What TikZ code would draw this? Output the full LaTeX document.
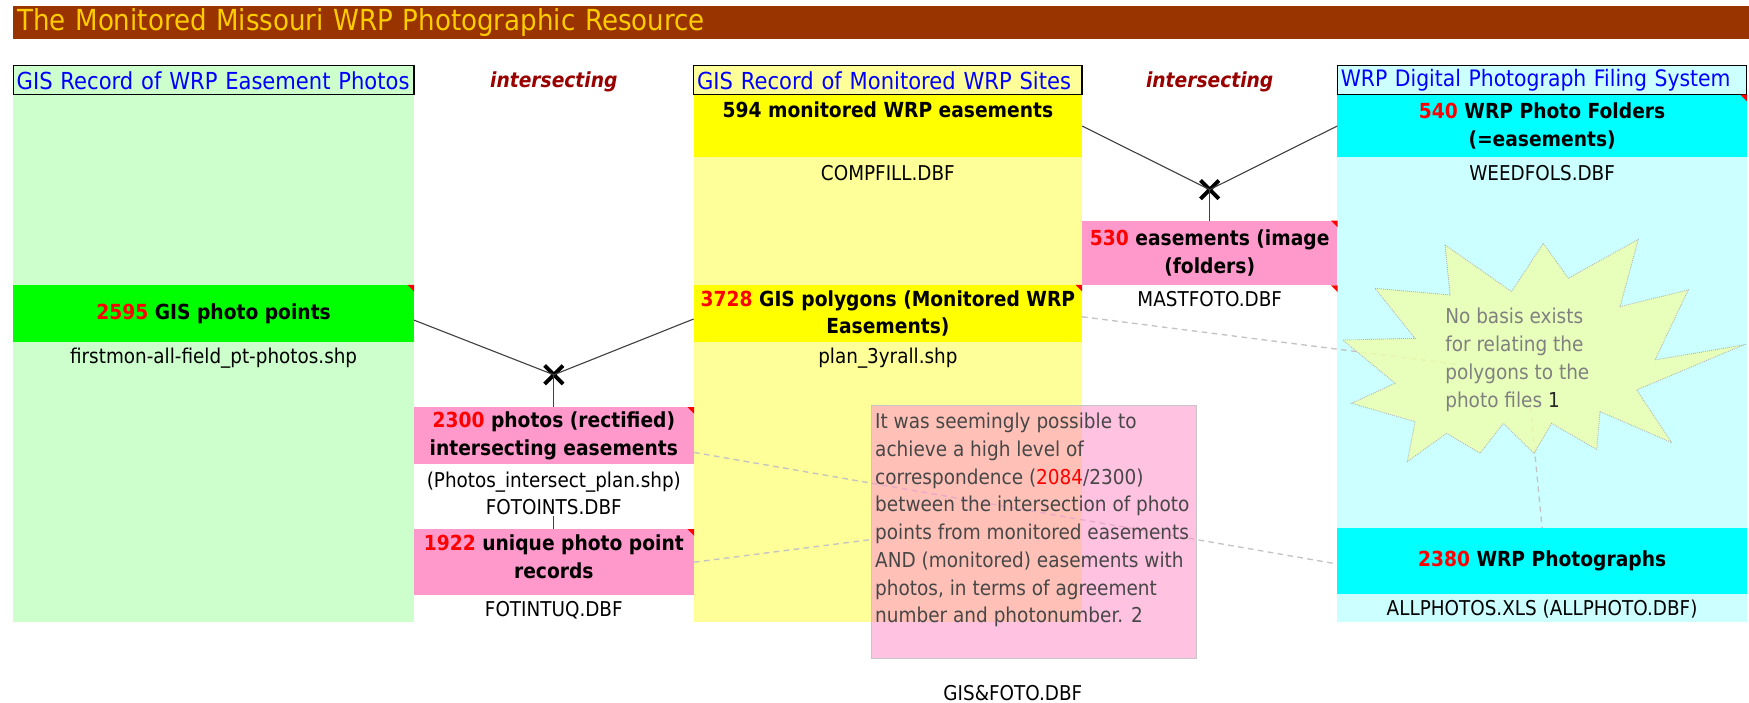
\documentclass[tikz,border=0pt]{standalone}
\usepackage{fontspec}
\setmainfont{DejaVu Sans}[FakeStretch=0.9]
\usetikzlibrary{shapes.misc}
\definecolor{titlebrown}{RGB}{153,51,0}
\definecolor{titlegold}{RGB}{255,204,0}
\definecolor{palegreen}{RGB}{204,255,204}
\definecolor{brightgreen}{RGB}{0,255,0}
\definecolor{paleyellow}{RGB}{255,255,153}
\definecolor{brightyellow}{RGB}{255,255,0}
\definecolor{palecyan}{RGB}{204,255,255}
\definecolor{brightcyan}{RGB}{0,255,255}
\definecolor{notepink}{RGB}{255,153,204}
\definecolor{darkred}{RGB}{153,0,0}
\definecolor{dashgrey}{RGB}{195,195,195}
\definecolor{starfill}{RGB}{240,255,170}

\newcommand{\redno}[1]{\textcolor{red}{#1}}
\newcommand{\lblfont}{\fontsize{18.6}{25}\selectfont\bfseries}
\newcommand{\fnfont}{\fontsize{18.3}{24}\selectfont}
\newcommand{\hdrfont}{\fontsize{21}{24}\selectfont}
\newcommand{\ttlfont}{\fontsize{26}{30}\selectfont}
\newcommand{\notefont}{\fontsize{18.4}{24.9}\selectfont}
% little red comment corner
\newcommand{\notetri}[1]{\fill[red] (#1) -- ++(-6,0) -- ++(6,6) -- cycle;}

\tikzset{
  cell/.style={rectangle, inner sep=0pt, align=center, font=\lblfont},
  hdr/.style={rectangle, draw=black, line width=1.2pt, inner xsep=3pt, inner ysep=0pt, align=left, text=blue, font=\hdrfont},
  fname/.style={inner sep=1pt, align=center, font=\fnfont},
  isect/.style={text=darkred, font=\lblfont\itshape},
  xmark/.style={cross out, draw=black, line width=3.5pt, minimum size=13pt, inner sep=0pt},
  link/.style={draw=black!75, line width=1pt},
  hint/.style={draw=dashgrey, line width=1.2pt, dash pattern=on 5pt off 4pt},
}

\begin{document}
\begin{tikzpicture}[x=1pt,y=-1pt]
\useasboundingbox (0,0) rectangle (1568,630);

% title bar
\node[fill=titlebrown, text width=1548.5, minimum height=30, inner xsep=4pt, inner ysep=0pt, align=left, text=titlegold, font=\ttlfont] (title) at (789.75,20.3) {The Monitored Missouri WRP Photographic Resource};

% column bodies
\fill[palegreen] (12,85) rectangle (371,558);
\fill[paleyellow] (622,85) rectangle (970,558);
\fill[palecyan] (1199,85) rectangle (1566,558);

% headers
\node[hdr, fill=palegreen, text width=353, minimum height=26] (hPhotos) at (191.5,72) {GIS Record of WRP Easement Photos};
\node[hdr, fill=paleyellow, text width=342, minimum height=26] (hSites) at (796,72) {GIS Record of Monitored WRP Sites};
\node[hdr, fill=palecyan, text width=361, minimum height=26, font=\fontsize{20.3}{24}\selectfont] (hFiling) at (1382.5,72) {WRP Digital Photograph Filing System};
\node[isect] (isL) at (496.5,73) {intersecting};
\node[isect] (isR) at (1084.5,73) {intersecting};

% cells
\node[cell, fill=brightyellow, minimum width=348, minimum height=56] (c594) at (796,113) {};
\node[font=\lblfont] (t594) at (796,98.6) {594 monitored WRP easements};
\node[cell, fill=brightcyan, minimum width=367, minimum height=56] (c540) at (1382.5,113) {\redno{540} WRP Photo Folders\\(=easements)};
\node[fname] (fComp) at (796,155) {COMPFILL.DBF};
\node[fname] (fWeed) at (1382.5,155) {WEEDFOLS.DBF};

\node[cell, fill=notepink, minimum width=229, minimum height=57.5] (c530) at (1084.5,226.8) {\redno{530} easements (image\\(folders)};
\node[fname] (fMast) at (1084.5,268.4) {MASTFOTO.DBF};

\node[cell, fill=brightgreen, minimum width=359, minimum height=51] (c2595) at (191.5,281) {\redno{2595} GIS photo points};
\node[fname] (fFirst) at (191.5,321.3) {firstmon-all-field\_pt-photos.shp};
\node[cell, fill=brightyellow, minimum width=348, minimum height=51] (c3728) at (796,281) {\redno{3728} GIS polygons (Monitored WRP\\Easements)};
\node[fname] (fPlan) at (796,321.3) {plan\_3yrall.shp};

\node[cell, fill=notepink, minimum width=251, minimum height=51] (c2300) at (496.5,390.6) {\redno{2300} photos (rectified)\\intersecting easements};
\node[fname] (fFotoints) at (496.5,442.3) {(Photos\_intersect\_plan.shp)\\FOTOINTS.DBF};
\node[cell, fill=notepink, minimum width=251, minimum height=59] (c1922) at (496.5,504) {\redno{1922} unique photo point\\records\rule[-10pt]{0pt}{1pt}};
\node[fname] (fFotintuq) at (496.5,546.9) {FOTINTUQ.DBF};

\node[cell, fill=brightcyan, minimum width=367, minimum height=59] (c2380) at (1382.5,503) {\redno{2380} WRP Photographs};
\node[fname] (fAll) at (1382.5,546) {ALLPHOTOS.XLS (ALLPHOTO.DBF)};
\node[fname] (fGisfoto) at (908,621) {GIS\&FOTO.DBF};

% comment corners
\notetri{c2595.north east}
\notetri{c3728.north east}
\notetri{c2300.north east}
\notetri{c1922.north east}
\notetri{c530.north east}
\notetri{c530.south east}
\notetri{c540.north east}

% intersections
\node[xmark] (xL) at (496.5,336) {};
\node[xmark] (xR) at (1084.5,170) {};
\draw[link] ([yshift=-6pt]c2595.east) -- (xL.center) -- ([yshift=-5pt]c3728.west);
\draw[link] (xL.center) -- (c2300.north);
\draw[link] (c594.east) -- (xR.center) -- (c540.west);
\draw[link] (xR.center) -- (c530.north);
\draw[link] (fFotoints.south) -- (c1922.north);

% dashed hints
\coordinate (starIn) at (1309,327);
\coordinate (starLow) at (1372,364.5);
\draw[hint] ([yshift=-3pt]c3728.east) -- (starIn);
\draw[hint] ([yshift=-15pt]c2300.east) -- ([yshift=-2.6pt]c2380.west);
\draw[hint] (starLow) -- (c2380.north);

% starburst
\filldraw[fill=starfill, fill opacity=0.8, draw=black!30, densely dotted, line width=0.8pt]
  (1295.5,219.6) -- (1300,264.4) -- (1232.7,258.5) -- (1268.6,303.3) -- (1203.8,304.8)
  -- (1250.7,343.6) -- (1211.8,361.5) -- (1268.6,378) -- (1261.7,413.8) -- (1297,388.4)
  -- (1326.9,406.4) -- (1347.8,379.5) -- (1375.3,406.4) -- (1391.1,379.5) -- (1431.4,402.8)
  -- (1434.4,369) -- (1498.7,396.8) -- (1467.3,349.6) -- (1562.9,309.3) -- (1483.7,322.7)
  -- (1513.6,259.9) -- (1452.4,274.9) -- (1468.8,214.5) -- (1406,249.5) -- (1383.6,218.1)
  -- (1355.2,261.4) -- cycle;
\node[anchor=north west, inner sep=0pt, align=left, text=black!50, font=\notefont] (starTxt) at (1295.5,276) {No basis exists\\for relating the\\polygons to the\\photo files \textcolor{black!85}{1}};

% comment box
\node[fill=notepink, fill opacity=0.6, draw=black!22, line width=1pt, minimum width=290.7, minimum height=227.1] (note) at (927,476.7) {};
\draw[hint] (c1922.east) -- ([yshift=-7pt]note.west);
\node[anchor=north west, inner sep=0pt, align=left, text=black!72, font=\notefont] (noteTxt) at (784.4,370) {It was seemingly possible to\\achieve a high level of\\correspondence (\redno{2084}/2300)\\between the intersection of photo\\points from monitored easements\\AND (monitored) easements with\\photos, in terms of agreement\\number and photonumber. 2};
\end{tikzpicture}
\end{document}
